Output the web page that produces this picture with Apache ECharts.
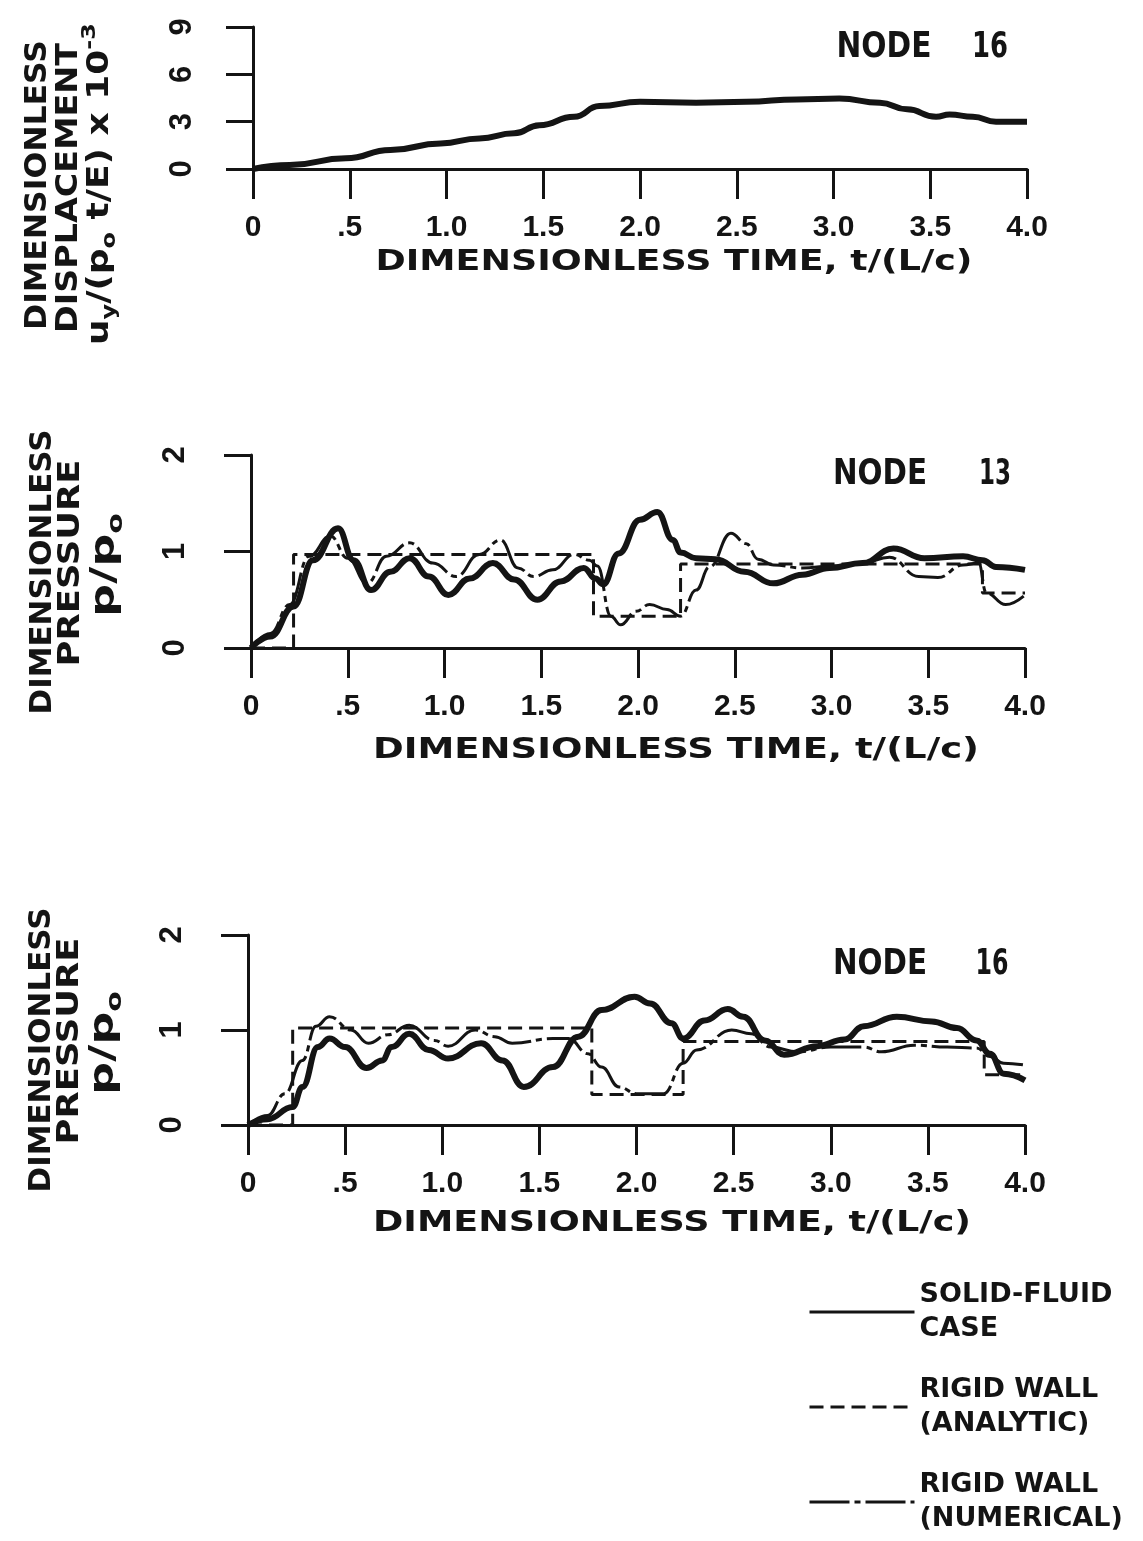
<!DOCTYPE html>
<html><head><meta charset="utf-8">
<script src="https://cdn.jsdelivr.net/npm/echarts@6/dist/echarts.min.js"></script>
<style>html,body{margin:0;padding:0;background:#fff}#c{width:1143px;height:1541px}</style>
</head><body><div id="c"></div>
<script>
// ---------- data ----------
const xTickLabels = ['0', '.5', '1.0', '1.5', '2.0', '2.5', '3.0', '3.5', '4.0'];
const dispYTicks = ['0', '3', '6', '9'];
const presYTicks = ['0', '1', '2'];
const seriesNames = ['SOLID-FLUID\nCASE', 'RIGID WALL\n(ANALYTIC)', 'RIGID WALL\n(NUMERICAL)'];
const xTitle = 'DIMENSIONLESS TIME, t/(L/c)';

// Panel 1: displacement, node 16
const dispT = [0, 0.19, 0.48, 0.71, 0.97, 1.17, 1.35, 1.48, 1.66, 1.79, 2.0, 2.29, 2.55, 2.81, 3.03, 3.24, 3.38, 3.53, 3.60, 3.72, 3.84, 4.0];
const dispV = [0, 0.25, 0.68, 1.2, 1.62, 1.94, 2.26, 2.78, 3.31, 3.99, 4.26, 4.20, 4.26, 4.41, 4.47, 4.2, 3.78, 3.31, 3.46, 3.31, 3.0, 3.0];

// Panel 2: pressure, node 13
const n13SolidT = [0, 0.10, 0.22, 0.32, 0.45, 0.53, 0.62, 0.72, 0.82, 0.92, 1.02, 1.13, 1.25, 1.36, 1.48, 1.60, 1.72, 1.78, 1.82, 1.90, 2.01, 2.10, 2.18, 2.22, 2.30, 2.40, 2.55, 2.70, 2.85, 2.99, 3.16, 3.32, 3.48, 3.68, 3.78, 3.85, 4.00];
const n13SolidV = [0, 0.12, 0.43, 0.91, 1.24, 0.91, 0.60, 0.79, 0.93, 0.74, 0.55, 0.72, 0.88, 0.71, 0.50, 0.69, 0.83, 0.72, 0.66, 0.98, 1.33, 1.41, 1.12, 0.99, 0.93, 0.92, 0.79, 0.67, 0.76, 0.83, 0.88, 1.03, 0.93, 0.95, 0.91, 0.84, 0.81];
const n13AnalyticT = [0, 0.22, 0.22, 1.77, 1.77, 2.22, 2.22, 3.78, 3.78, 4.0];
const n13AnalyticV = [0, 0, 0.97, 0.97, 0.33, 0.33, 0.87, 0.87, 0.57, 0.57];
const n13NumT = [0, 0.10, 0.20, 0.30, 0.41, 0.50, 0.60, 0.70, 0.82, 0.94, 1.06, 1.18, 1.29, 1.38, 1.46, 1.56, 1.67, 1.75, 1.79, 1.86, 1.91, 1.99, 2.06, 2.15, 2.22, 2.30, 2.37, 2.48, 2.56, 2.62, 2.70, 2.85, 3.00, 3.16, 3.30, 3.45, 3.55, 3.68, 3.76, 3.80, 3.90, 4.00];
const n13NumV = [0, 0.15, 0.45, 0.95, 1.16, 0.93, 0.67, 0.95, 1.09, 0.88, 0.74, 0.97, 1.12, 0.83, 0.74, 0.81, 0.97, 0.91, 0.85, 0.33, 0.24, 0.38, 0.45, 0.40, 0.33, 0.60, 0.84, 1.19, 1.08, 0.92, 0.86, 0.83, 0.85, 0.88, 0.94, 0.74, 0.73, 0.86, 0.88, 0.57, 0.45, 0.55];

// Panel 3: pressure, node 16
const n16SolidT = [0, 0.10, 0.23, 0.28, 0.36, 0.42, 0.50, 0.61, 0.69, 0.74, 0.83, 0.93, 1.03, 1.20, 1.31, 1.42, 1.57, 1.70, 1.82, 1.99, 2.07, 2.18, 2.24, 2.35, 2.47, 2.55, 2.66, 2.76, 2.93, 3.07, 3.17, 3.34, 3.52, 3.65, 3.75, 3.82, 3.89, 4.00];
const n16SolidV = [0, 0.06, 0.19, 0.40, 0.82, 0.91, 0.82, 0.60, 0.68, 0.82, 0.96, 0.79, 0.70, 0.86, 0.68, 0.40, 0.61, 0.93, 1.21, 1.35, 1.28, 1.07, 0.91, 1.10, 1.22, 1.14, 0.89, 0.74, 0.83, 0.90, 1.04, 1.14, 1.09, 1.02, 0.89, 0.75, 0.54, 0.47];
const n16AnalyticT = [0, 0.23, 0.23, 1.77, 1.77, 2.24, 2.24, 3.79, 3.79, 4.0];
const n16AnalyticV = [0, 0, 1.02, 1.02, 0.32, 0.32, 0.88, 0.88, 0.53, 0.53];
const n16NumT = [0, 0.10, 0.19, 0.28, 0.35, 0.42, 0.53, 0.62, 0.72, 0.83, 0.96, 1.03, 1.17, 1.27, 1.36, 1.57, 1.65, 1.75, 1.82, 1.91, 2.00, 2.14, 2.24, 2.31, 2.49, 2.59, 2.69, 2.83, 3.00, 3.17, 3.26, 3.43, 3.60, 3.75, 3.82, 3.89, 4.00];
const n16NumV = [0, 0.10, 0.33, 0.68, 1.04, 1.14, 1.00, 0.86, 0.95, 1.05, 0.89, 0.83, 1.00, 0.93, 0.86, 0.91, 0.91, 0.75, 0.61, 0.40, 0.33, 0.33, 0.65, 0.79, 1.00, 0.96, 0.82, 0.77, 0.82, 0.82, 0.77, 0.84, 0.82, 0.81, 0.72, 0.65, 0.63];

// ---------- styling / layout ----------
const INK = '#141414';
const FT = 'DejaVu Sans';
const FN = 'Liberation Sans';
const pairs = (t, v) => t.map((x, i) => [x, v[i]]);

const mctx = document.createElement('canvas').getContext('2d');
function measure(text, size, fam) { mctx.font = 'bold ' + size + 'px "' + fam + '"'; return mctx.measureText(text).width; }

function txt(text, x, y, size, fam, w, rot) {
  const sx = w ? w / measure(text, size, fam) : 1;
  return { type: 'text', x: x, y: y, rotation: rot || 0, scaleX: sx, z: 10,
    style: { text: text, fontSize: size, fontFamily: fam, fontWeight: 'bold', fill: INK,
      align: 'center', verticalAlign: 'middle', textAlign: 'center', textVerticalAlign: 'middle' } };
}
// rich text with sub/superscripts: parts = [[text, key]]
function richTxt(parts, sizes, x, y, w, rot) {
  let total = 0;
  parts.forEach(p => { total += measure(p[0], sizes[p[1]], FT); });
  const rich = {
    m: { fontSize: sizes.m, fontFamily: FT, fontWeight: 'bold', fill: INK, lineHeight: sizes.lh },
    s: { fontSize: sizes.s, fontFamily: FT, fontWeight: 'bold', fill: INK, verticalAlign: 'bottom' },
    p: { fontSize: sizes.p, fontFamily: FT, fontWeight: 'bold', fill: INK, verticalAlign: 'top' }
  };
  const text = parts.map(p => '{' + p[1] + '|' + p[0] + '}').join('');
  return { type: 'text', x: x, y: y, rotation: rot || 0, scaleX: w / total, z: 10,
    style: { text: text, rich: rich, fill: INK, align: 'center', verticalAlign: 'middle', textAlign: 'center', textVerticalAlign: 'middle' } };
}

const R = Math.PI / 2;
const grids = [
  { left: 253, top: 27, width: 774, height: 142 },
  { left: 251, top: 455, width: 774, height: 193 },
  { left: 248, top: 935, width: 777, height: 190 }
];

function xAxisCfg(i) {
  return { type: 'value', gridIndex: i, min: 0, max: 4, interval: 0.5,
    axisLine: { show: true, onZero: false, lineStyle: { color: INK, width: 3 } },
    axisTick: { show: true, length: 30, lineStyle: { color: INK, width: 3 } },
    axisLabel: { margin: 44, color: INK, fontFamily: FN, fontWeight: 'bold', fontSize: 30,
      formatter: v => xTickLabels[Math.round(v * 2)] },
    splitLine: { show: false } };
}
function yAxisCfg(i, max, interval, labels, margin) {
  return { type: 'value', gridIndex: i, min: 0, max: max, interval: interval,
    axisLine: { show: true, onZero: false, lineStyle: { color: INK, width: 3 } },
    axisTick: { show: true, length: 27, lineStyle: { color: INK, width: 3 } },
    axisLabel: { margin: margin, rotate: 90, color: INK, fontFamily: FN, fontWeight: 'bold', fontSize: 31,
      formatter: v => labels[Math.round(v / interval)] },
    splitLine: { show: false } };
}

const solidStyle = { color: INK, width: 6 };
const analyticStyle = { color: INK, width: 3, type: [14, 7] };
const numStyle = { color: INK, width: 3, type: [40, 5, 6, 5] };

function line(name, gi, data, style, smooth) {
  return { type: 'line', name: name, xAxisIndex: gi, yAxisIndex: gi, data: data,
    symbol: 'none', showSymbol: false, smooth: smooth, smoothMonotone: 'x',
    lineStyle: style, itemStyle: { color: INK }, animation: false, silent: true };
}

const series = [
  line(seriesNames[0], 0, pairs(dispT, dispV), solidStyle, 0.5),
  line(seriesNames[2], 1, pairs(n13NumT, n13NumV), numStyle, 0.45),
  line(seriesNames[1], 1, pairs(n13AnalyticT, n13AnalyticV), analyticStyle, false),
  line(seriesNames[0], 1, pairs(n13SolidT, n13SolidV), solidStyle, 0.45),
  line(seriesNames[2], 2, pairs(n16NumT, n16NumV), numStyle, 0.45),
  line(seriesNames[1], 2, pairs(n16AnalyticT, n16AnalyticV), analyticStyle, false),
  line(seriesNames[0], 2, pairs(n16SolidT, n16SolidV), solidStyle, 0.45)
];

const subSizes = { m: 30, s: 20, p: 20, lh: 40 };
const ppSizes = { m: 34, s: 22, p: 22, lh: 44 };
const graphic = [
  // panel 1 y title
  txt('DIMENSIONLESS', 38, 185, 30, FT, 290, R),
  txt('DISPLACEMENT', 69, 188, 30, FT, 290, R),
  richTxt([['u', 'm'], ['y', 's'], ['/(p', 'm'], ['o', 's'], [' t/E) x 10', 'm'], ['-3', 'p']], subSizes, 100, 184, 322, R),
  // panel 2 y title
  txt('DIMENSIONLESS', 43, 572, 30, FT, 285, R),
  txt('PRESSURE', 71, 563, 30, FT, 207, R),
  richTxt([['p/p', 'm'], ['o', 's']], ppSizes, 105, 565, 104, R),
  // panel 3 y title
  txt('DIMENSIONLESS', 42, 1050, 30, FT, 285, R),
  txt('PRESSURE', 70, 1041, 30, FT, 207, R),
  richTxt([['p/p', 'm'], ['o', 's']], ppSizes, 104, 1043, 104, R),
  // x titles
  txt(xTitle, 674, 262, 29, FT, 597),
  txt(xTitle, 676, 750, 29, FT, 606),
  txt(xTitle, 672, 1223, 29, FT, 598),
  // node labels
  txt('NODE', 884, 48, 36, FT, 95), txt('16', 990, 48, 36, FT, 36),
  txt('NODE', 880, 475, 36, FT, 94), txt('13', 995, 475, 36, FT, 32),
  txt('NODE', 880, 965, 36, FT, 94), txt('16', 992, 965, 36, FT, 33)
];

const option = {
  backgroundColor: '#ffffff',
  animation: false,
  grid: grids,
  xAxis: [xAxisCfg(0), xAxisCfg(1), xAxisCfg(2)],
  yAxis: [yAxisCfg(0, 9, 3, dispYTicks, 55), yAxisCfg(1, 2, 1, presYTicks, 60), yAxisCfg(2, 2, 1, presYTicks, 60)],
  legend: { orient: 'vertical', left: 803, top: 1273, itemWidth: 105, itemHeight: 4, itemGap: 27,
    selectedMode: false, data: seriesNames,
    textStyle: { fontFamily: FT, fontWeight: 'bold', fontSize: 27, lineHeight: 34, color: INK },
    itemStyle: { color: 'rgba(0,0,0,0)', borderColor: 'rgba(0,0,0,0)', borderWidth: 0, opacity: 0 },
    lineStyle: { width: 3 } },
  series: series,
  graphic: graphic
};
const chart = echarts.init(document.getElementById('c'));
chart.setOption(option);
</script></body></html>
